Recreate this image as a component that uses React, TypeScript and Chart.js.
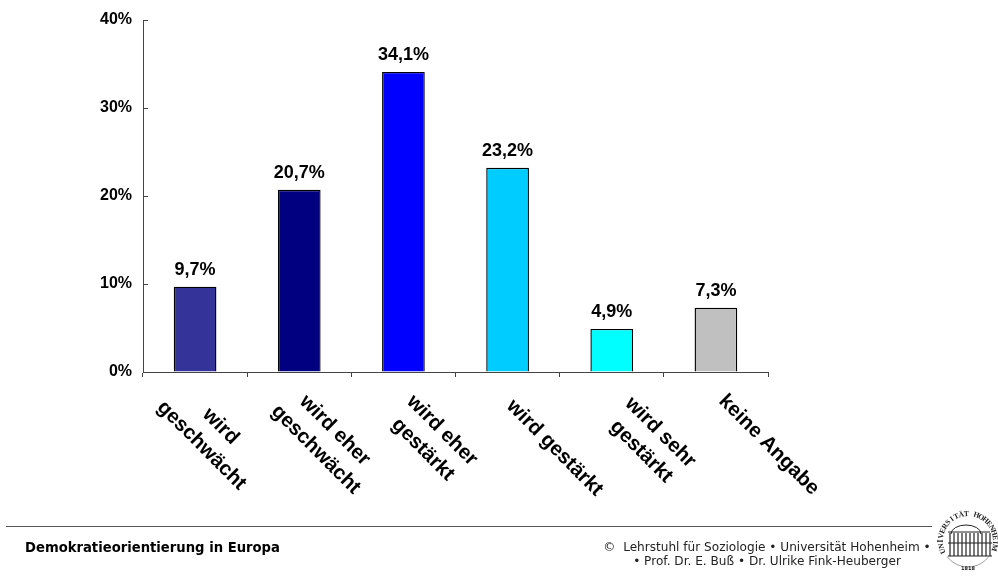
import React, { useEffect, useRef } from "react";
import { Chart, registerables } from "chart.js";

Chart.register(...registerables);

const categories = [
  ["wird", "geschwächt"],
  ["wird eher", "geschwächt"],
  ["wird eher", "gestärkt"],
  ["wird gestärkt"],
  ["wird sehr", "gestärkt"],
  ["keine Angabe"],
];
const shares = [9.7, 20.7, 34.1, 23.2, 4.9, 7.3];
const barColors = ["#333399", "#000080", "#0000FF", "#00CCFF", "#00FFFF", "#C0C0C0"];
const footerTitle = "Demokratieorientierung in Europa";
const footerCredits = [
  "©  Lehrstuhl für Soziologie • Universität Hohenheim •",
  "• Prof. Dr. E. Buß • Dr. Ulrike Fink-Heuberger",
];

const ARIAL = '"Liberation Sans", Arial, sans-serif';
const VERDANA = '"DejaVu Sans", Verdana, sans-serif';
// Offset of each rotated label block's centre from its category centre.
const labelShift: [number, number][] = [
  [16, 436], [26, 440], [29, 440], [47, 448], [39, 442], [53, 445],
];

const decimal = (v: number) => v.toFixed(1).replace(".", ",") + "%";

const valueLabels = {
  id: "valueLabels",
  afterDatasetsDraw(chart: any) {
    const { ctx } = chart;
    const meta = chart.getDatasetMeta(0);
    ctx.save();
    ctx.font = `bold 18px ${ARIAL}`;
    ctx.fillStyle = "#000";
    ctx.textAlign = "center";
    ctx.textBaseline = "alphabetic";
    meta.data.forEach((bar: any, i: number) => {
      ctx.fillText(decimal(shares[i]), bar.x, bar.y - 12);
    });
    ctx.restore();
  },
};

const slantedCategories = {
  id: "slantedCategories",
  afterDraw(chart: any) {
    const { ctx, scales } = chart;
    const xs = scales.x;
    ctx.save();
    ctx.font = `bold 20.4px ${ARIAL}`;
    ctx.fillStyle = "#000";
    ctx.textAlign = "center";
    ctx.textBaseline = "middle";
    categories.forEach((lines, i) => {
      const [dx, cy] = labelShift[i];
      ctx.save();
      ctx.translate(xs.getPixelForTick(i) + dx, cy);
      ctx.rotate(Math.PI / 4);
      lines.forEach((line, k) => {
        ctx.fillText(line, 0, (k - (lines.length - 1) / 2) * 27);
      });
      ctx.restore();
    });
    ctx.restore();
  },
};

// Rule, title, credits and the university seal beneath the plot.
const footer = {
  id: "footer",
  afterDraw(chart: any) {
    const { ctx } = chart;
    ctx.save();
    ctx.strokeStyle = "#555";
    ctx.lineWidth = 1;
    ctx.beginPath();
    ctx.moveTo(6, 526.5);
    ctx.lineTo(932, 526.5);
    ctx.stroke();

    ctx.fillStyle = "#000";
    ctx.textBaseline = "alphabetic";
    ctx.textAlign = "left";
    ctx.font = `bold 13.2px ${VERDANA}`;
    ctx.fillText(footerTitle, 25, 552);

    ctx.textAlign = "center";
    ctx.font = `12.1px ${VERDANA}`;
    ctx.fillStyle = "#222";
    ctx.fillText(footerCredits[0], 767, 551);
    ctx.fillText(footerCredits[1], 767, 565);

    drawSeal(ctx, 968, 541);
    ctx.restore();
  },
};

function drawSeal(ctx: CanvasRenderingContext2D, cx: number, cy: number) {
  ctx.save();
  ctx.strokeStyle = "#222";
  ctx.fillStyle = "#222";
  ctx.lineWidth = 1;
  // dome
  ctx.beginPath();
  ctx.ellipse(cx - 2, cy - 7, 15, 9, 0, Math.PI, 0);
  ctx.stroke();
  // roofline and wings
  ctx.beginPath();
  ctx.moveTo(cx - 20, cy - 9);
  ctx.lineTo(cx + 22, cy - 9);
  ctx.moveTo(cx - 20, cy + 2);
  ctx.lineTo(cx + 24, cy + 2);
  ctx.moveTo(cx - 20, cy + 15);
  ctx.lineTo(cx + 24, cy + 15);
  ctx.stroke();
  ctx.lineWidth = 1.2;
  for (let x = cx - 18; x <= cx + 24; x += 4) {
    ctx.beginPath();
    ctx.moveTo(x, cy - 8);
    ctx.lineTo(x, cy + 15);
    ctx.stroke();
  }
  // lower wreath
  ctx.lineWidth = 0.7;
  ctx.strokeStyle = "#777";
  ctx.beginPath();
  ctx.arc(cx, cy, 26, Math.PI * 0.2, Math.PI * 0.8);
  ctx.stroke();
  // lettering around the rim
  ctx.font = `bold 7.5px "Liberation Serif", serif`;
  ctx.textAlign = "center";
  ctx.textBaseline = "middle";
  const ring = "UNIVERSITÄT HOHENHEIM";
  [...ring].forEach((ch, i) => {
    const a = -Math.PI * 1.12 + (i / (ring.length - 1)) * Math.PI * 1.2;
    ctx.save();
    ctx.translate(cx + Math.cos(a) * 27, cy + Math.sin(a) * 27);
    ctx.rotate(a + Math.PI / 2);
    ctx.fillText(ch, 0, 0);
    ctx.restore();
  });
  ctx.font = `bold 5px ${VERDANA}`;
  ctx.fillText("1818", cx, cy + 28);
  ctx.restore();
}

export default function App() {
  const ref = useRef<HTMLCanvasElement>(null);
  useEffect(() => {
    const chart = new Chart(ref.current!, {
      type: "bar",
      data: {
        labels: categories.map((c) => c.join(" ")),
        datasets: [
          {
            data: shares,
            backgroundColor: barColors,
            borderColor: "#000",
            borderWidth: 1.4,
            barPercentage: 0.41,
            categoryPercentage: 1,
          },
        ],
      },
      options: {
        responsive: false,
        animation: false,
        layout: { padding: { top: 20, right: 230, left: 0, bottom: 0 } },
        plugins: { legend: { display: false }, tooltip: { enabled: false } },
        scales: {
          x: {
            afterFit(s: any) {
              s.height = 208;
            },
            grid: { drawOnChartArea: false, tickLength: 5, tickColor: "#444", offset: true },
            border: { color: "#444", width: 1 },
            ticks: { display: false },
          },
          y: {
            min: 0,
            max: 40,
            afterFit(s: any) {
              s.width = 143;
              // the tick label overhang must not push the plot top down
              s.paddingTop = 0;
              s.paddingBottom = 0;
            },
            grid: { drawOnChartArea: false, tickLength: -5, tickColor: "#444" },
            border: { color: "#444", width: 1 },
            ticks: {
              stepSize: 10,
              padding: 16,
              color: "#000",
              font: { family: ARIAL, size: 16, weight: "bold" },
              callback: (v: any) => `${v}%`,
            },
          },
        },
      },
      plugins: [valueLabels, slantedCategories, footer],
    } as any);
    return () => chart.destroy();
  }, []);
  return (
    <div style={{ position: "fixed", left: 0, top: 0, width: 998, height: 580, background: "#fff" }}>
      <canvas ref={ref} width={998} height={580} style={{ display: "block" }} />
    </div>
  );
}
